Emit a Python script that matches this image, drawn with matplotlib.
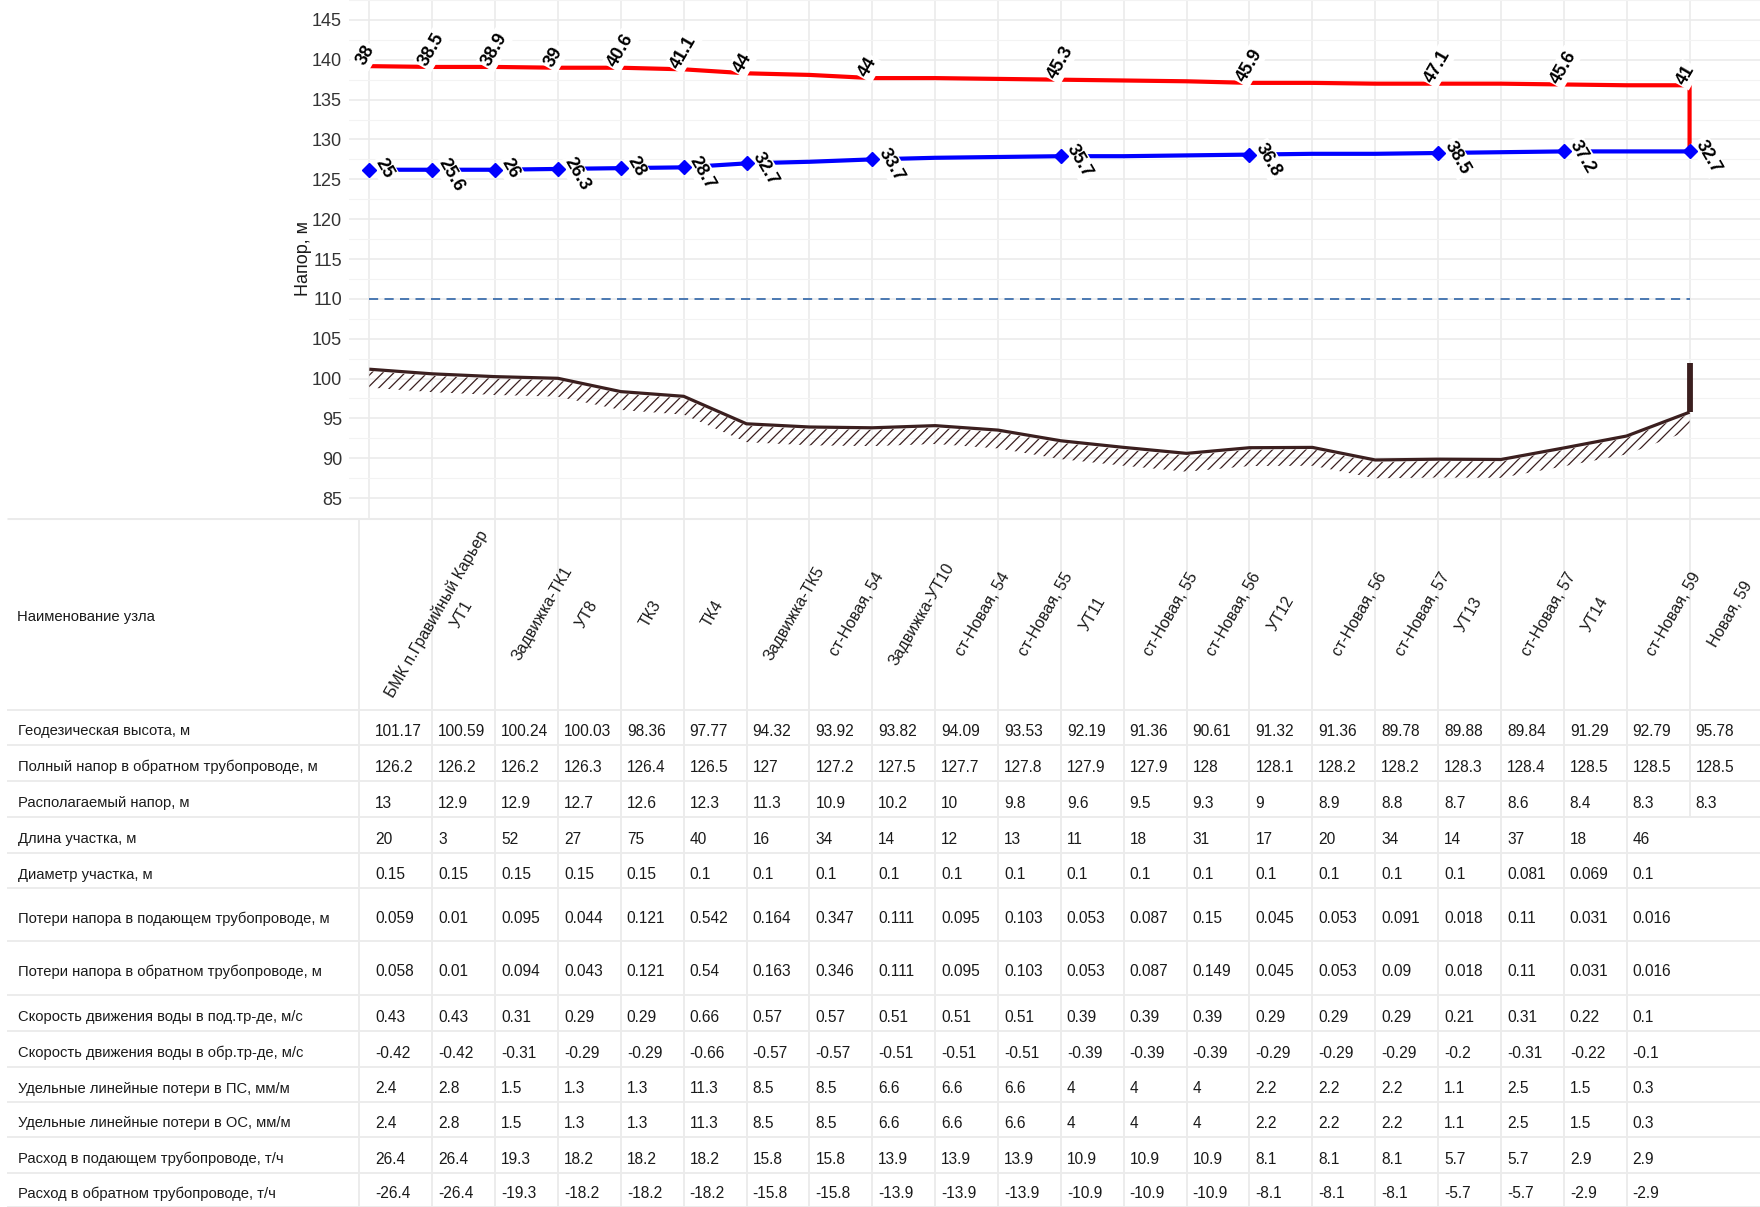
import numpy as np
import matplotlib
matplotlib.use("Agg")
import matplotlib.pyplot as plt

# ---------------------------------------------------------------- data
node_names = [
    "БМК п.Гравийный Карьер", "УТ1", "Задвижка-ТК1", "УТ8", "ТК3", "ТК4",
    "Задвижка-ТК5", "ст-Новая, 54", "Задвижка-УТ10", "ст-Новая, 54",
    "ст-Новая, 55", "УТ11", "ст-Новая, 55", "ст-Новая, 56", "УТ12",
    "ст-Новая, 56", "ст-Новая, 57", "УТ13", "ст-Новая, 57", "УТ14",
    "ст-Новая, 59", "Новая, 59",
]
geo_height = [101.17, 100.59, 100.24, 100.03, 98.36, 97.77, 94.32, 93.92,
              93.82, 94.09, 93.53, 92.19, 91.36, 90.61, 91.32, 91.36, 89.78,
              89.88, 89.84, 91.29, 92.79, 95.78]
return_head = [126.2, 126.2, 126.2, 126.3, 126.4, 126.5, 127, 127.2, 127.5,
               127.7, 127.8, 127.9, 127.9, 128, 128.1, 128.2, 128.2, 128.3,
               128.4, 128.5, 128.5, 128.5]
available_head = [13, 12.9, 12.9, 12.7, 12.6, 12.3, 11.3, 10.9, 10.2, 10, 9.8,
                  9.6, 9.5, 9.3, 9, 8.9, 8.8, 8.7, 8.6, 8.4, 8.3, 8.3]
section_length = [20, 3, 52, 27, 75, 40, 16, 34, 14, 12, 13, 11, 18, 31, 17,
                  20, 34, 14, 37, 18, 46]
section_diameter = [0.15, 0.15, 0.15, 0.15, 0.15, 0.1, 0.1, 0.1, 0.1, 0.1, 0.1,
                    0.1, 0.1, 0.1, 0.1, 0.1, 0.1, 0.1, 0.081, 0.069, 0.1]
loss_supply = [0.059, 0.01, 0.095, 0.044, 0.121, 0.542, 0.164, 0.347, 0.111,
               0.095, 0.103, 0.053, 0.087, 0.15, 0.045, 0.053, 0.091, 0.018,
               0.11, 0.031, 0.016]
loss_return = [0.058, 0.01, 0.094, 0.043, 0.121, 0.54, 0.163, 0.346, 0.111,
               0.095, 0.103, 0.053, 0.087, 0.149, 0.045, 0.053, 0.09, 0.018,
               0.11, 0.031, 0.016]
velocity_supply = [0.43, 0.43, 0.31, 0.29, 0.29, 0.66, 0.57, 0.57, 0.51, 0.51,
                   0.51, 0.39, 0.39, 0.39, 0.29, 0.29, 0.29, 0.21, 0.31, 0.22,
                   0.1]
velocity_return = [-0.42, -0.42, -0.31, -0.29, -0.29, -0.66, -0.57, -0.57,
                   -0.51, -0.51, -0.51, -0.39, -0.39, -0.39, -0.29, -0.29,
                   -0.29, -0.2, -0.31, -0.22, -0.1]
spec_loss_supply = [2.4, 2.8, 1.5, 1.3, 1.3, 11.3, 8.5, 8.5, 6.6, 6.6, 6.6, 4,
                    4, 4, 2.2, 2.2, 2.2, 1.1, 2.5, 1.5, 0.3]
spec_loss_return = [2.4, 2.8, 1.5, 1.3, 1.3, 11.3, 8.5, 8.5, 6.6, 6.6, 6.6, 4,
                    4, 4, 2.2, 2.2, 2.2, 1.1, 2.5, 1.5, 0.3]
flow_supply = [26.4, 26.4, 19.3, 18.2, 18.2, 18.2, 15.8, 15.8, 13.9, 13.9,
               13.9, 10.9, 10.9, 10.9, 8.1, 8.1, 8.1, 5.7, 5.7, 2.9, 2.9]
flow_return = [-26.4, -26.4, -19.3, -18.2, -18.2, -18.2, -15.8, -15.8, -13.9,
               -13.9, -13.9, -10.9, -10.9, -10.9, -8.1, -8.1, -8.1, -5.7, -5.7,
               -2.9, -2.9]

# nodes carrying head labels and the heads above ground shown there
label_nodes = [0, 1, 2, 3, 4, 5, 6, 8, 11, 14, 17, 19, 21]
supply_labels = [38, 38.5, 38.9, 39, 40.6, 41.1, 44, 44, 45.3, 45.9, 47.1,
                 45.6, 41]
return_labels = [25, 25.6, 26, 26.3, 28, 28.7, 32.7, 33.7, 35.7, 36.8, 38.5,
                 37.2, 32.7]

head_limit = 110.0      # permissible head line
consumer_top = 102.0    # top of the consumer building mark
y_ticks = list(range(85, 150, 5))

row_titles = [
    "Геодезическая высота, м",
    "Полный напор в обратном трубопроводе, м",
    "Располагаемый напор, м",
    "Длина участка, м",
    "Диаметр участка, м",
    "Потери напора в подающем трубопроводе, м",
    "Потери напора в обратном трубопроводе, м",
    "Скорость движения воды в под.тр-де, м/с",
    "Скорость движения воды в обр.тр-де, м/с",
    "Удельные линейные потери в ПС, мм/м",
    "Удельные линейные потери в ОС, мм/м",
    "Расход в подающем трубопроводе, т/ч",
    "Расход в обратном трубопроводе, т/ч",
]
row_values = [geo_height, return_head, available_head, section_length,
              section_diameter, loss_supply, loss_return, velocity_supply,
              velocity_return, spec_loss_supply, spec_loss_return,
              flow_supply, flow_return]

supply_head = [r + a for r, a in zip(return_head, available_head)]
nodes = np.arange(len(node_names))

# ---------------------------------------------------------------- layout
W, H, DPI = 1760, 1207, 100
X0, DX = 369.3, 62.87          # pixel position of first node, node step
PANEL_L, PANEL_B = 349, 518    # plot panel left edge / bottom edge (px)
row_edges = [518, 710, 745, 781, 817, 853, 888, 941, 995, 1031, 1067, 1102,
             1137, 1173, 1207]

FONT = ["Liberation Sans", "DejaVu Sans"]
GRID = "#ebebeb"
GROUND = "#3b1f1f"
TXT = "#1a1a1a"

plt.rcParams["hatch.linewidth"] = 0.9


def px2x(p):
    return (p - X0) / DX


fig = plt.figure(figsize=(W / DPI, H / DPI), dpi=DPI)
fig.patch.set_facecolor("white")

# ---------------------------------------------------------------- chart
ax = fig.add_axes([PANEL_L / W, 1 - PANEL_B / H, 1 - PANEL_L / W, PANEL_B / H])
ax.set_xlim(px2x(PANEL_L), px2x(W))
ax.set_ylim(83.52, 147.47)
for s in ax.spines.values():
    s.set_visible(False)
ax.set_xticks(nodes)
ax.set_yticks(y_ticks)
ax.set_yticks([t + 2.5 for t in y_ticks[:-1]] + [82.5, 147.5], minor=True)
ax.tick_params(axis="x", length=0, labelbottom=False)
ax.tick_params(axis="y", which="both", length=0, pad=5, labelsize=13,
               labelcolor="#333333")
for lab in ax.get_yticklabels():
    lab.set_family(FONT)
ax.grid(True, which="major", color=GRID, lw=1.2, zorder=0)
ax.grid(True, which="minor", axis="y", color="#f3f3f3", lw=0.8, zorder=0)
ax.set_axisbelow(True)
ax.set_ylabel("Напор, м", fontsize=13, family=FONT, color=TXT)
ax.yaxis.set_label_coords(-0.026, 0.5)

# ground profile with hatching
ax.fill_between(nodes, np.array(geo_height) - 2.3, np.array(geo_height) - 0.25,
                facecolor="none", edgecolor=GROUND, hatch="///", linewidth=0,
                zorder=2)
ax.plot(nodes, geo_height, color=GROUND, lw=2.3, zorder=3,
        solid_capstyle="butt")
ax.plot([nodes[-1], nodes[-1]], [geo_height[-1], consumer_top], color=GROUND,
        lw=4.2, zorder=3, solid_capstyle="butt")

# permissible head
ax.plot([nodes[0], nodes[-1]], [head_limit, head_limit], color="#2f64a8",
        lw=1.2, ls=(0, (5.5, 3.8)), zorder=2)

# supply and return heads
ax.plot(list(nodes) + [nodes[-1]], supply_head + [return_head[-1]],
        color="#ff0000", lw=3.0, zorder=4, solid_joinstyle="miter")
ax.plot(nodes, return_head, color="#0000ff", lw=3.0, zorder=4)

label_kw = dict(textcoords="offset pixels", fontsize=13, fontweight="bold",
                family=FONT, color="black", rotation_mode="anchor",
                ha="left", va="center", zorder=5,
                bbox=dict(boxstyle="square,pad=0.12", fc="white", ec="none"))
for n, v in zip(label_nodes, supply_labels):
    ax.annotate(f"{v:g}", (nodes[n], supply_head[n]), xytext=(-9, 2),
                rotation=60, **label_kw)
for n, v in zip(label_nodes, return_labels):
    ax.annotate(f"{v:g}", (nodes[n], return_head[n]), xytext=(10, 10),
                rotation=-60, **label_kw)
ax.plot(nodes[label_nodes], np.array(return_head)[label_nodes], ls="none",
        marker="D", ms=7.6, color="#0000ff", zorder=6)

# ---------------------------------------------------------------- table
axt = fig.add_axes([0, 0, 1, 1 - PANEL_B / H])
axt.set_xlim(px2x(0), px2x(W))
axt.set_ylim(H, PANEL_B)
axt.axis("off")

axt.hlines(row_edges[1:], px2x(7), px2x(W), color=GRID, lw=1.3)
axt.hlines(row_edges[0], px2x(7), px2x(W), color=GRID, lw=2.2)

all_rows = [node_names] + row_values
for r, vals in enumerate(all_rows):
    top, bot = row_edges[r], row_edges[r + 1]
    for i in range(len(vals)):
        xl = px2x(359) if i == 0 else nodes[i]
        axt.vlines(xl, top, bot, color=GRID, lw=1.3)

# header: node names
hc = (row_edges[0] + row_edges[1]) / 2 + 3
axt.text(px2x(17), hc, "Наименование узла", ha="left", va="center",
         fontsize=10.7, family=FONT, color=TXT)
for i, name in enumerate(node_names):
    shift = (2.0 * len(name) - 8) / DX
    axt.text(nodes[i] + 0.5 + shift, hc - 3, name, rotation=60,
             rotation_mode="anchor", ha="center", va="center", fontsize=11.5,
             family=FONT, color=TXT)

# value rows
for r, (title, vals) in enumerate(zip(row_titles, row_values), start=1):
    yc = (row_edges[r] + row_edges[r + 1]) / 2 + 4
    axt.text(px2x(18), yc, title, ha="left", va="center", fontsize=10.6,
             family=FONT, color=TXT)
    for i, v in enumerate(vals):
        axt.text(nodes[i] + 6 / DX, yc, f"{v:g}", ha="left", va="center",
                 fontsize=11.2, family=FONT, color=TXT)

fig.savefig("out.png", dpi=DPI, facecolor="white")
